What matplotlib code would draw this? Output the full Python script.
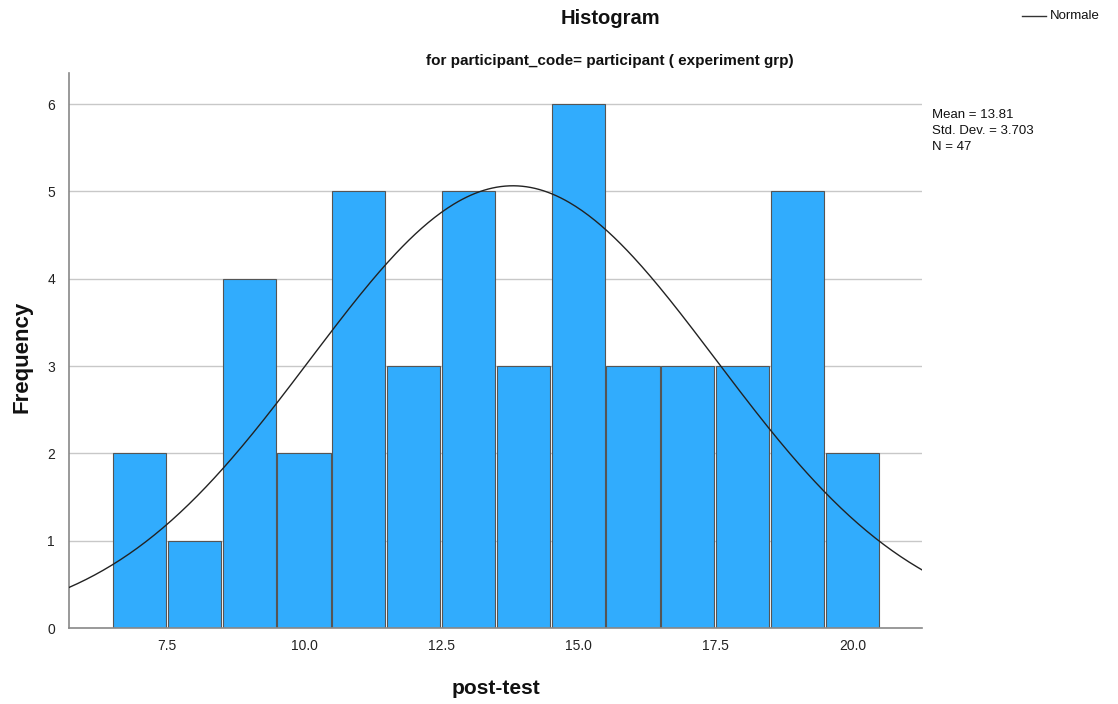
import numpy as np
import matplotlib
matplotlib.use("Agg")
import matplotlib.pyplot as plt

plt.rcParams['font.family'] = ['Liberation Sans', 'DejaVu Sans']

# Data
bin_centers = [7, 8, 9, 10, 11, 12, 13, 14, 15, 16, 17, 18, 19, 20]
frequencies = [2, 1, 4, 2, 5, 3, 5, 3, 6, 3, 3, 3, 5, 2]
mean_val = 13.81
std_val = 3.703
n_val = 47
x_ticks = [7.5, 10.0, 12.5, 15.0, 17.5, 20.0]
y_ticks = [0, 1, 2, 3, 4, 5, 6]

fig = plt.figure(figsize=(11.18, 7.04), dpi=100)
ax = fig.add_axes([69/1118, 1-628/704, (922-69)/1118, (628-73)/704])

xmin, xmax = 5.715, 21.27
ax.set_xlim(xmin, xmax)
ax.set_ylim(0, 6.355)

for y in y_ticks[1:]:
    ax.axhline(y, color='#c8c8c8', linewidth=1.0, zorder=0)

ax.bar(bin_centers, frequencies, width=0.97, color='#31acfd',
       edgecolor='#555555', linewidth=0.8, zorder=2)

xs = np.linspace(xmin, xmax, 400)
binw = 1.0
ys = n_val * binw / (std_val * np.sqrt(2*np.pi)) * np.exp(-0.5*((xs-mean_val)/std_val)**2)
ax.plot(xs, ys, color='#222222', linewidth=1.0, zorder=3)

ax.set_xticks(x_ticks)
ax.set_xticklabels([f"{t:.1f}" for t in x_ticks])
ax.set_yticks(y_ticks)
ax.tick_params(axis='both', length=0, labelsize=10, colors='#222222', pad=8)
ax.tick_params(axis='y', pad=10)

for s in ['top', 'right']:
    ax.spines[s].set_visible(False)
for s in ['left', 'bottom']:
    ax.spines[s].set_color('#888888')
    ax.spines[s].set_linewidth(1.2)

fig.text(610/1118, 1-18/704, "Histogram", ha='center', va='center',
         fontsize=14.5, fontweight='bold', color='#111111')
fig.text(610/1118, 1-61/704, "for participant_code= participant ( experiment grp)",
         ha='center', va='center', fontsize=11, fontweight='bold', color='#111111')
fig.text(22/1118, 1-357/704, "Frequency", rotation=90, ha='center', va='center',
         fontsize=16, fontweight='bold', color='#111111')
fig.text(496/1118, 1-688/704, "post-test", ha='center', va='center',
         fontsize=15, fontweight='bold', color='#111111')

fig.text(932/1118, 1-131/704,
         f"Mean = {mean_val:.2f}\nStd. Dev. = {std_val:.3f}\nN = {n_val}",
         ha='left', va='center', fontsize=9.5, color='#111111', linespacing=1.45)

# legend
fig.add_artist(matplotlib.lines.Line2D([1022/1118, 1046/1118], [1-16/704, 1-16/704],
                                       color='#333333', linewidth=1.0))
fig.text(1050/1118, 1-16/704, "Normale", ha='left', va='center', fontsize=9.5,
         color='#111111')

fig.savefig("out.png", dpi=100)
